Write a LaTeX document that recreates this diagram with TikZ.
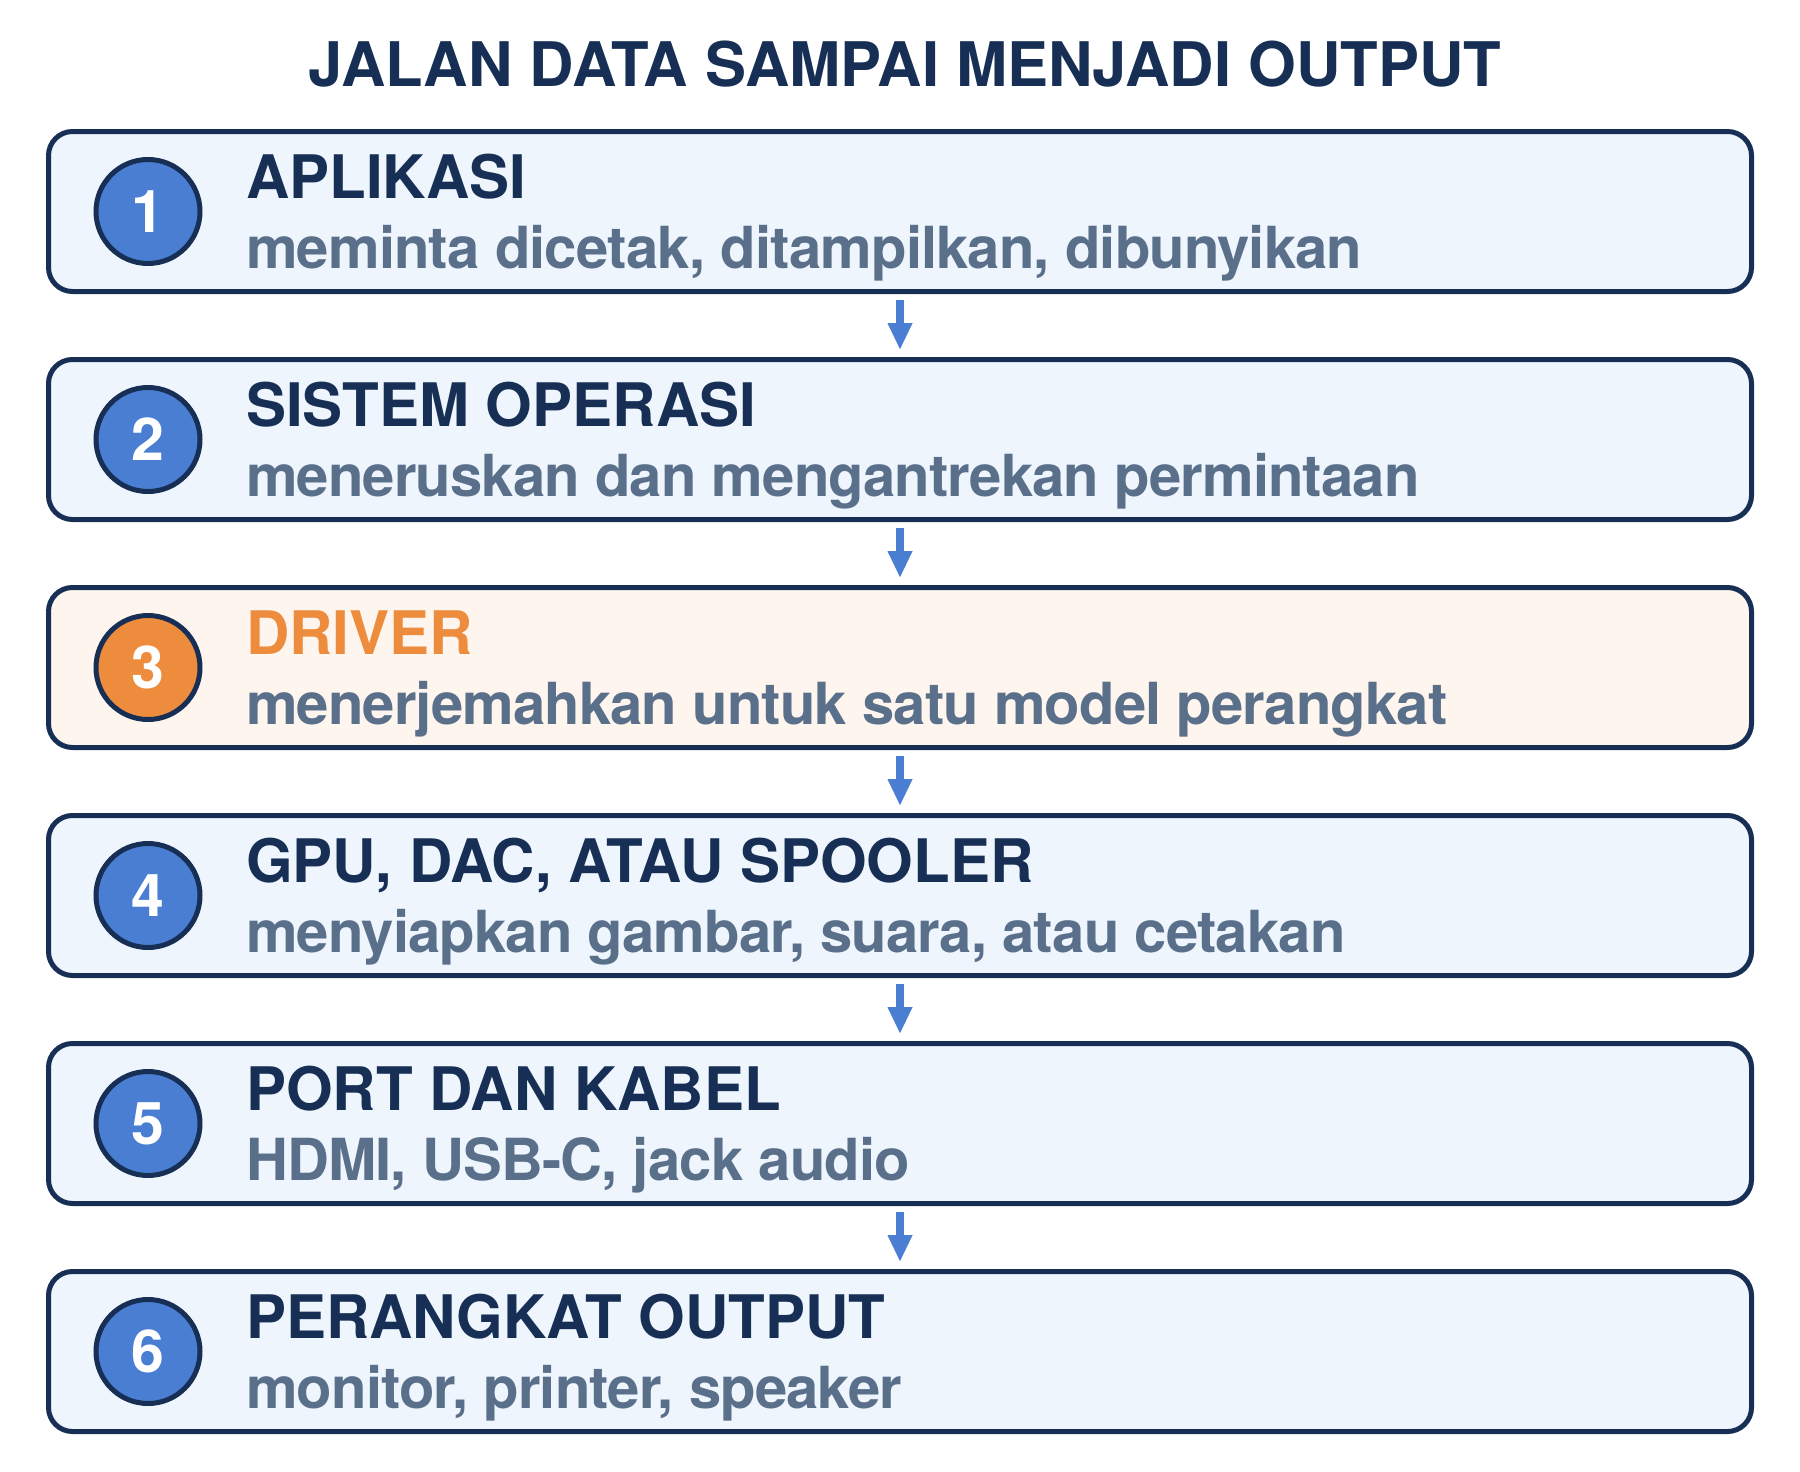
\documentclass[tikz,border=0pt]{standalone}
\usepackage{fontspec}
\setmainfont{TeX Gyre Heros}
\usetikzlibrary{arrows.meta}

\definecolor{navy}{HTML}{172F55}
\definecolor{stepblue}{HTML}{4A7ED3}
\definecolor{steporange}{HTML}{EE8C3E}
\definecolor{boxblue}{HTML}{EEF5FD}
\definecolor{boxorange}{HTML}{FDF5EE}
\definecolor{subgray}{HTML}{5A6F8A}

\tikzset{
  stage/.style={draw=navy, line width=5pt, rounded corners=24pt, fill=boxblue,
    minimum width=1703pt, minimum height=160pt, inner sep=0pt},
  numdot/.style={circle, draw=navy, line width=5pt, fill=stepblue, minimum size=104pt,
    inner sep=0pt, text=white, font=\fontsize{59}{66}\selectfont\bfseries},
  headtext/.style={anchor=base west, inner sep=0pt, text=navy,
    font=\fontsize{60}{70}\selectfont\bfseries},
  subtext/.style={anchor=base west, inner sep=0pt, text=subgray,
    font=\fontsize{58}{68}\selectfont\bfseries\addfontfeature{LetterSpace=-1.5}},
  flow/.style={draw=stepblue, line width=8pt, -{Triangle[width=23pt,length=27pt]},
    shorten <=6pt, shorten >=7pt}
}

\begin{document}
\begin{tikzpicture}[x=1pt, y=-1pt]
\useasboundingbox (0,0) rectangle (1800,1472);
% title
\node[anchor=base, inner sep=0pt, text=navy, font=\fontsize{61.5}{70}\selectfont\bfseries]
  (title) at (905,87) {JALAN DATA SAMPAI MENJADI OUTPUT};
% stages
\node[stage] (box1) at (900,211.5) {};
\node[numdot] (num1) at (148,211.5) {1};
\node[headtext] (head1) at (246,198) {APLIKASI};
\node[subtext] (sub1) at (246,268) {meminta dicetak, ditampilkan, dibunyikan};

\node[stage] (box2) at (900,439.5) {};
\node[numdot] (num2) at (148,439.5) {2};
\node[headtext] (head2) at (246,426) {SISTEM OPERASI};
\node[subtext] (sub2) at (246,496) {meneruskan dan mengantrekan permintaan};

\node[stage, fill=boxorange] (box3) at (900,667.5) {};
\node[numdot, fill=steporange] (num3) at (148,667.5) {3};
\node[headtext, text=steporange] (head3) at (246,654) {DRIVER};
\node[subtext] (sub3) at (246,724) {menerjemahkan untuk satu model perangkat};

\node[stage] (box4) at (900,895.5) {};
\node[numdot] (num4) at (148,895.5) {4};
\node[headtext] (head4) at (246,882) {GPU, DAC, ATAU SPOOLER};
\node[subtext] (sub4) at (246,952) {menyiapkan gambar, suara, atau cetakan};

\node[stage] (box5) at (900,1123.5) {};
\node[numdot] (num5) at (148,1123.5) {5};
\node[headtext] (head5) at (246,1110) {PORT DAN KABEL};
\node[subtext] (sub5) at (246,1180) {HDMI, USB-C, jack audio};

\node[stage] (box6) at (900,1351.5) {};
\node[numdot] (num6) at (148,1351.5) {6};
\node[headtext] (head6) at (246,1338) {PERANGKAT OUTPUT};
\node[subtext] (sub6) at (246,1408) {monitor, printer, speaker};
% arrows
\draw[flow] (box1.south) -- (box2.north);
\draw[flow] (box2.south) -- (box3.north);
\draw[flow] (box3.south) -- (box4.north);
\draw[flow] (box4.south) -- (box5.north);
\draw[flow] (box5.south) -- (box6.north);
\end{tikzpicture}
\end{document}
